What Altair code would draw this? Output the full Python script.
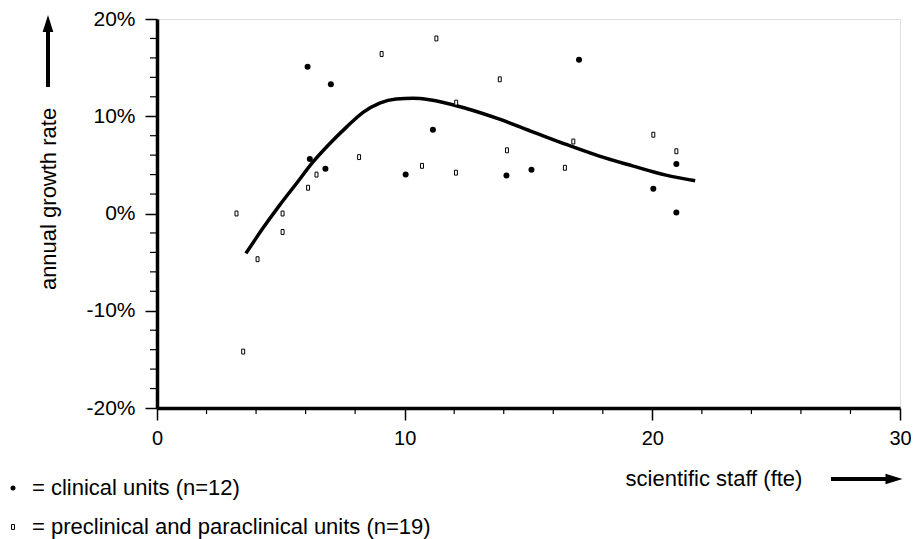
import altair as alt
import pandas as pd

# clinical units (filled dots)
clin_x = [6.08, 6.17, 6.8, 7.02, 10.04, 11.14, 14.11, 15.12, 17.04, 20.04, 20.97, 20.97]
clin_y = [15.1, 5.6, 4.6, 13.3, 4.0, 8.6, 3.9, 4.5, 15.8, 2.55, 5.1, 0.1]

# preclinical and paraclinical units (open squares)
pre_x = [3.21, 3.48, 4.06, 5.07, 5.07, 6.1, 6.44, 8.16, 9.07, 10.7, 11.28, 12.07,
         12.08, 13.84, 14.13, 16.47, 16.81, 20.04, 20.97]
pre_y = [0.0, -14.2, -4.7, 0.0, -1.9, 2.65, 4.0, 5.8, 16.4, 4.9, 18.0, 4.2,
         11.4, 13.8, 6.5, 4.7, 7.4, 8.1, 6.4]

# fitted curve
fit_x = [3.59, 4.28, 4.96, 5.63, 6.30, 6.97, 7.65, 8.32, 8.99, 9.66, 10.33, 11.0,
         12.49, 13.83, 15.17, 16.52, 17.86, 19.2, 20.55, 21.73]
fit_y = [-4.1, -1.5, 0.89, 3.09, 5.3, 7.17, 8.88, 10.4, 11.36, 11.77, 11.84, 11.7,
         10.8, 9.7, 8.4, 7.1, 5.9, 4.9, 3.95, 3.37]

x_major = [0, 10, 20, 30]
x_minor = [2, 4, 6, 8, 12, 14, 16, 18, 22, 24, 26, 28]
y_major = [-20, -10, 0, 10, 20]
y_minor = [-18, -16, -14, -12, -8, -6, -4, -2, 2, 4, 6, 8, 12, 14, 16, 18]

y_title = "annual growth rate"
x_title = "scientific staff (fte)"
legend_1 = "= clinical units (n=12)"
legend_2 = "= preclinical and paraclinical units (n=19)"

FONT = "Liberation Sans"
W, H = 743, 389

xscale = alt.Scale(domain=[0, 30], nice=False, zero=False)
yscale = alt.Scale(domain=[-20, 20], nice=False, zero=False)

xaxis = alt.Axis(values=x_major, title=None, grid=False, domainColor="black",
                 domainWidth=3.5, tickColor="black", tickWidth=1.5, tickSize=12,
                 labelFontSize=20, labelPadding=8, labelColor="black", labelFont=FONT,
                 labelFlush=False, labelOverlap=False, format="d")
yaxis = alt.Axis(values=y_major, title=None, grid=False, domainColor="black",
                 domainWidth=3.5, tickColor="black", tickWidth=1.5, tickSize=12,
                 labelFontSize=21, labelPadding=10, labelColor="black", labelFont=FONT,
                 labelFlush=False, labelOverlap=False,
                 labelExpr="datum.value + '%'")

clin = pd.DataFrame({"x": clin_x, "y": clin_y})
pre = pd.DataFrame({"x": pre_x, "y": pre_y})
fit = pd.DataFrame({"x": fit_x, "y": fit_y})
xmin = pd.DataFrame({"x": x_minor})
ymin = pd.DataFrame({"y": y_minor})
one = pd.DataFrame({"k": [0]})

SQUARE = "M-0.6,-1L0.6,-1L0.6,1L-0.6,1Z"
HEAD_UP = "M0,-1L0.63,1L-0.63,1Z"
HEAD_RIGHT = "M1,0L-1,0.63L-1,-0.63Z"

X = alt.X("x:Q", scale=xscale, axis=xaxis)
Y = alt.Y("y:Q", scale=yscale, axis=yaxis)

curve = alt.Chart(fit).mark_line(color="black", strokeWidth=3.5,
                                 interpolate="monotone").encode(x=X, y=Y)
dots = alt.Chart(clin).mark_point(shape="circle", filled=True, color="black",
                                  size=36, opacity=1).encode(x=X, y=Y)
squares = alt.Chart(pre).mark_point(shape=SQUARE, filled=False, stroke="black",
                                    fill="white", fillOpacity=1, strokeWidth=1,
                                    size=24, opacity=1).encode(x=X, y=Y)

xticks = alt.Chart(xmin).mark_rule(color="black", strokeWidth=1.2).encode(
    x=X, y=alt.value(H), y2=alt.value(H + 6))
yticks = alt.Chart(ymin).mark_rule(color="black", strokeWidth=1.2).encode(
    y=Y, x=alt.value(-7), x2=alt.value(0))

ytitle = alt.Chart(one).mark_text(text=y_title, angle=270, font=FONT, fontSize=22,
                                  color="black", align="center",
                                  baseline="middle").encode(
    x=alt.value(-108), y=alt.value(180))
up_shaft = alt.Chart(one).mark_rule(color="black", strokeWidth=4).encode(
    x=alt.value(-109), y=alt.value(68), y2=alt.value(11))
up_head = alt.Chart(one).mark_point(shape=HEAD_UP, filled=True, color="black",
                                    size=289, opacity=1).encode(
    x=alt.value(-109), y=alt.value(4.5))

xtitle = alt.Chart(one).mark_text(text=x_title, font=FONT, fontSize=22,
                                  color="black", align="center",
                                  baseline="middle").encode(
    x=alt.value(557), y=alt.value(460))
right_shaft = alt.Chart(one).mark_rule(color="black", strokeWidth=4).encode(
    x=alt.value(674), x2=alt.value(732), y=alt.value(460))
right_head = alt.Chart(one).mark_point(shape=HEAD_RIGHT, filled=True, color="black",
                                       size=289, opacity=1).encode(
    x=alt.value(737), y=alt.value(460))

leg_dot = alt.Chart(one).mark_point(shape="circle", filled=True, color="black",
                                    size=25, opacity=1).encode(
    x=alt.value(-144), y=alt.value(469))
leg_sq = alt.Chart(one).mark_point(shape=SQUARE, filled=False, stroke="black",
                                   strokeWidth=1, size=24, opacity=1).encode(
    x=alt.value(-144), y=alt.value(508))
leg_t1 = alt.Chart(one).mark_text(text=legend_1, font=FONT, fontSize=22,
                                  color="black", align="left",
                                  baseline="middle").encode(
    x=alt.value(-125), y=alt.value(469))
leg_t2 = alt.Chart(one).mark_text(text=legend_2, font=FONT, fontSize=22,
                                  color="black", align="left",
                                  baseline="middle").encode(
    x=alt.value(-125), y=alt.value(508))

chart = alt.layer(
    curve, squares, dots, xticks, yticks,
    ytitle, up_shaft, up_head, xtitle, right_shaft, right_head,
    leg_dot, leg_sq, leg_t1, leg_t2,
).properties(
    width=W, height=H,
    autosize=alt.AutoSizeParams(type="none"),
    padding={"left": 149, "top": 11, "right": 11, "bottom": 140},
).configure_view(stroke=None).configure(background="white")

chart.save("out.html", embed_options={"renderer": "svg", "actions": False})
